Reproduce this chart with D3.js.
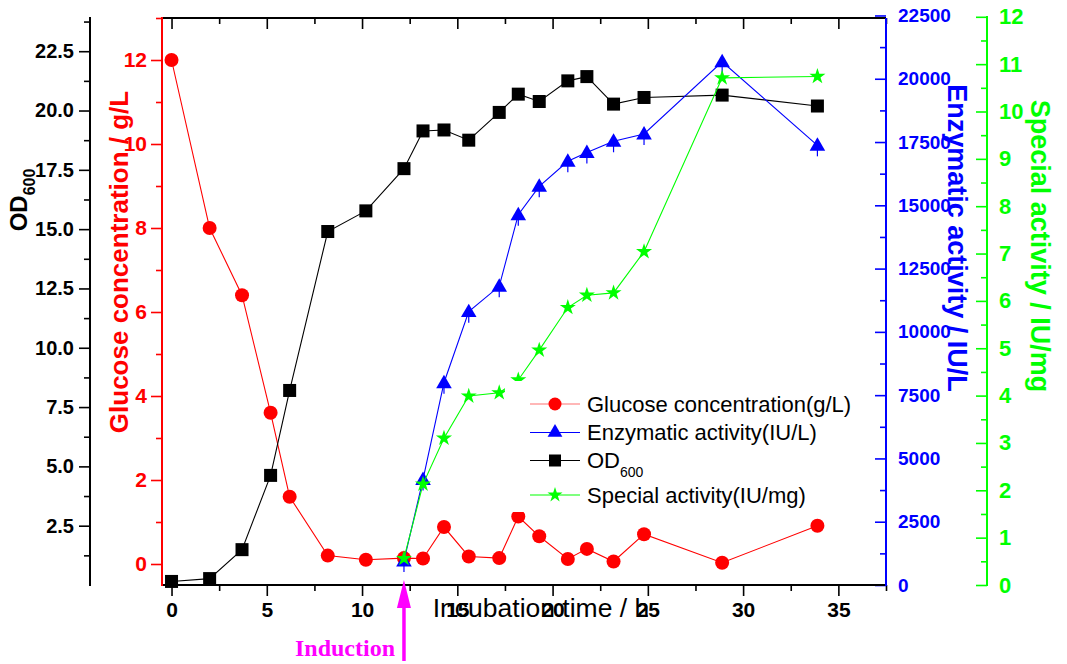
<!DOCTYPE html>
<html>
<head>
<meta charset="utf-8">
<script src="https://cdn.jsdelivr.net/npm/d3@7"></script>
<style>
  html, body { margin: 0; padding: 0; background: #ffffff; }
  svg { display: block; }
</style>
</head>
<body>
<div id="container"></div>
<script>
"use strict";

// Sampling times (h) and measured series.
const timeH = [0, 2, 3.7, 5.2, 6.2, 8.2, 10.2, 12.2, 13.2, 14.3, 15.6, 17.2, 18.2, 19.3, 20.8, 21.8, 23.2, 24.8, 28.9, 33.9];
const glucose = [12.0, 8.0, 6.4, 3.6, 1.6, 0.2, 0.1, 0.14, 0.13, 0.88, 0.18, 0.14, 1.13, 0.66, 0.12, 0.36, 0.06, 0.71, 0.03, 0.91];
const od600 = [0.15, 0.27, 1.49, 4.62, 8.2, 14.9, 15.77, 17.55, 19.14, 19.18, 18.75, 19.92, 20.69, 20.38, 21.25, 21.43, 20.27, 20.55, 20.65, 20.19];

// Enzyme series start at induction.
const inducedTimeH = [12.2, 13.2, 14.3, 15.6, 17.2, 18.2, 19.3, 20.8, 21.8, 23.2, 24.8, 28.9, 33.9];
const enzymatic = [950, 4170, 7990, 10800, 11800, 14630, 15750, 16740, 17090, 17530, 17820, 20670, 17370];
const special = [0.56, 2.13, 3.1, 3.99, 4.06, 4.33, 4.96, 5.86, 6.12, 6.17, 7.04, 10.71, 10.74];

const inductionTime = 12.2;

// Tick values.
const xTicks = [0, 5, 10, 15, 20, 25, 30, 35];
const xMinor = [2.5, 7.5, 12.5, 17.5, 22.5, 27.5, 32.5, 37.5];
const odTicks = [2.5, 5, 7.5, 10, 12.5, 15, 17.5, 20, 22.5];
const odMinor = [1.25, 3.75, 6.25, 8.75, 11.25, 13.75, 16.25, 18.75, 21.25, 23.75];
const glucoseTicks = [0, 2, 4, 6, 8, 10, 12];
const glucoseMinor = [1, 3, 5, 7, 9, 11, 13];
const enzTicks = [0, 2500, 5000, 7500, 10000, 12500, 15000, 17500, 20000, 22500];
const enzMinor = [1250, 3750, 6250, 8750, 11250, 13750, 16250, 18750, 21250];
const specialTicks = [0, 1, 2, 3, 4, 5, 6, 7, 8, 9, 10, 11, 12];
const specialMinor = [0.5, 1.5, 2.5, 3.5, 4.5, 5.5, 6.5, 7.5, 8.5, 9.5, 10.5, 11.5];

const legendItems = [
  { key: "glucose", label: "Glucose concentration(g/L)" },
  { key: "enzymatic", label: "Enzymatic activity(IU/L)" },
  { key: "od", label: "OD", sub: "600" },
  { key: "special", label: "Special activity(IU/mg)" }
];

const RED = "#ff0000";
const BLUE = "#0000ff";
const GREEN = "#00ff00";
const MAGENTA = "#ff00ff";
const FONT = "'Liberation Sans', Arial, Helvetica, sans-serif";

const width = 1067;
const height = 664;
const plotLeft = 162;
const plotRight = 886;
const plotTop = 18;
const plotBottom = 585;
const odAxisX = 90;
const specialAxisX = 987;
const majorTick = 11;
const minorTick = 6;

const x = d3.scaleLinear().domain([-0.5, 37.5]).range([plotLeft, plotRight]);
const yOd = d3.scaleLinear().domain([0, 23.9]).range([plotBottom, plotTop]);
const yGlucose = d3.scaleLinear().domain([-0.5, 13]).range([plotBottom, plotTop]);
const yEnz = d3.scaleLinear().domain([0, 22400]).range([plotBottom, plotTop]);
const ySpecial = d3.scaleLinear().domain([0, 12]).range([plotBottom, 16.8]);

const svg = d3.select("#container").append("svg")
  .attr("width", width)
  .attr("height", height)
  .style("font-family", FONT);

svg.append("rect").attr("width", width).attr("height", height).attr("fill", "#ffffff");

// Style an axis group: drop the domain path, colour ticks and labels.
function styleAxis(g, color, fontSize) {
  g.select(".domain").remove();
  g.selectAll("line").attr("stroke", color).attr("stroke-width", 1.6);
  g.selectAll("text")
    .attr("fill", color)
    .attr("font-size", fontSize)
    .attr("font-weight", "bold")
    .attr("font-family", FONT);
}

function drawAxis(axis, minorAxis, transform, color, fontSize) {
  svg.append("g").attr("transform", transform).call(minorAxis).call((g) => styleAxis(g, color, fontSize));
  svg.append("g").attr("transform", transform).call(axis).call((g) => styleAxis(g, color, fontSize));
}

// Bottom x-axis (ticks outward).
drawAxis(
  d3.axisBottom(x).tickValues(xTicks).tickSize(majorTick).tickPadding(6).tickFormat(d3.format("d")),
  d3.axisBottom(x).tickValues(xMinor).tickSize(minorTick).tickFormat(""),
  `translate(0, ${plotBottom})`, "#000000", 21
);
// Top frame ticks (inward).
drawAxis(
  d3.axisBottom(x).tickValues(xTicks).tickSize(majorTick).tickFormat(""),
  d3.axisBottom(x).tickValues(xMinor).tickSize(minorTick).tickFormat(""),
  `translate(0, ${plotTop})`, "#000000", 21
);

// OD600 axis, far left.
drawAxis(
  d3.axisLeft(yOd).tickValues(odTicks).tickSize(majorTick).tickPadding(5).tickFormat(d3.format(".1f")),
  d3.axisLeft(yOd).tickValues(odMinor).tickSize(minorTick).tickFormat(""),
  `translate(${odAxisX}, 0)`, "#000000", 20
);

// Glucose axis on the plot's left edge.
drawAxis(
  d3.axisLeft(yGlucose).tickValues(glucoseTicks).tickSize(majorTick).tickPadding(4).tickFormat(d3.format("d")),
  d3.axisLeft(yGlucose).tickValues(glucoseMinor).tickSize(minorTick).tickFormat(""),
  `translate(${plotLeft}, 0)`, RED, 21
);

// Enzymatic axis on the plot's right edge (ticks point inward).
drawAxis(
  d3.axisRight(yEnz).tickValues(enzTicks).tickSize(-majorTick).tickPadding(12).tickFormat(d3.format("d")),
  d3.axisRight(yEnz).tickValues(enzMinor).tickSize(-minorTick).tickFormat(""),
  `translate(${plotRight}, 0)`, BLUE, 19
);

// Special activity axis, far right.
drawAxis(
  d3.axisRight(ySpecial).tickValues(specialTicks).tickSize(-majorTick).tickPadding(12).tickFormat(d3.format("d")),
  d3.axisRight(ySpecial).tickValues(specialMinor).tickSize(-minorTick).tickFormat(""),
  `translate(${specialAxisX}, 0)`, GREEN, 22
);

// Axis lines.
const axisLines = [
  { x1: plotLeft, y1: plotTop, x2: plotRight, y2: plotTop, c: "#000000" },
  { x1: plotLeft, y1: plotBottom, x2: plotRight, y2: plotBottom, c: "#000000" },
  { x1: odAxisX, y1: 17, x2: odAxisX, y2: 586, c: "#000000" },
  { x1: plotLeft, y1: 17, x2: plotLeft, y2: 586, c: RED },
  { x1: plotRight, y1: plotTop, x2: plotRight, y2: 586, c: BLUE },
  { x1: specialAxisX, y1: 16, x2: specialAxisX, y2: 586, c: GREEN }
];
svg.append("g").selectAll("line").data(axisLines).enter().append("line")
  .attr("x1", (d) => d.x1).attr("y1", (d) => d.y1)
  .attr("x2", (d) => d.x2).attr("y2", (d) => d.y2)
  .attr("stroke", (d) => d.c).attr("stroke-width", 2);

// Series.
const glucoseData = timeH.map((t, i) => ({ t, v: glucose[i] }));
const odData = timeH.map((t, i) => ({ t, v: od600[i] }));
const enzData = inducedTimeH.map((t, i) => ({ t, v: enzymatic[i] }));
const specialData = inducedTimeH.map((t, i) => ({ t, v: special[i] }));

function drawLine(data, yScale, color) {
  svg.append("path")
    .datum(data)
    .attr("fill", "none")
    .attr("stroke", color)
    .attr("stroke-width", 1.1)
    .attr("d", d3.line().x((d) => x(d.t)).y((d) => yScale(d.v)));
}

drawLine(glucoseData, yGlucose, RED);
svg.append("g").selectAll("circle").data(glucoseData).enter().append("circle")
  .attr("cx", (d) => x(d.t)).attr("cy", (d) => yGlucose(d.v)).attr("r", 7).attr("fill", RED);

drawLine(odData, yOd, "#000000");
svg.append("g").selectAll("rect").data(odData).enter().append("rect")
  .attr("x", (d) => x(d.t) - 6.5).attr("y", (d) => yOd(d.v) - 6.5)
  .attr("width", 13).attr("height", 13).attr("fill", "#000000");

drawLine(enzData, yEnz, BLUE);
// Small error stems under the triangles.
svg.append("g").selectAll("line").data(enzData).enter().append("line")
  .attr("x1", (d) => x(d.t)).attr("x2", (d) => x(d.t))
  .attr("y1", (d) => yEnz(d.v)).attr("y2", (d) => yEnz(d.v) + 11)
  .attr("stroke", BLUE).attr("stroke-width", 1.2);
svg.append("g").selectAll("path").data(enzData).enter().append("path")
  .attr("transform", (d) => `translate(${x(d.t)}, ${yEnz(d.v) + 1})`)
  .attr("d", d3.symbol().type(d3.symbolTriangle).size(105))
  .attr("fill", BLUE);

drawLine(specialData, ySpecial, GREEN);
svg.append("g").selectAll("path").data(specialData).enter().append("path")
  .attr("transform", (d) => `translate(${x(d.t)}, ${ySpecial(d.v)})`)
  .attr("d", d3.symbol().type(d3.symbolStar).size(80))
  .attr("fill", GREEN);

// Legend with white background.
const legendRows = [404, 432.5, 460.5, 495];
const legend = svg.append("g");
legend.append("rect").attr("x", 505).attr("y", 381).attr("width", 355).attr("height", 131).attr("fill", "#ffffff");
const legendColors = { glucose: RED, enzymatic: BLUE, od: "#000000", special: GREEN };
legendItems.forEach((item, i) => {
  const y = legendRows[i];
  const c = legendColors[item.key];
  legend.append("line").attr("x1", 530).attr("x2", 580).attr("y1", y).attr("y2", y)
    .attr("stroke", item.key === "glucose" ? "#ff7070" : c).attr("stroke-width", 1.2);
  if (item.key === "glucose") {
    legend.append("circle").attr("cx", 555).attr("cy", y).attr("r", 6.5).attr("fill", RED);
  } else if (item.key === "enzymatic") {
    legend.append("path").attr("transform", `translate(555, ${y})`)
      .attr("d", d3.symbol().type(d3.symbolTriangle).size(95)).attr("fill", BLUE);
  } else if (item.key === "od") {
    legend.append("rect").attr("x", 549).attr("y", y - 6).attr("width", 12).attr("height", 12).attr("fill", c);
  } else {
    legend.append("path").attr("transform", `translate(555, ${y})`)
      .attr("d", d3.symbol().type(d3.symbolStar).size(70)).attr("fill", GREEN);
  }
  const t = legend.append("text").attr("x", 587).attr("y", y).attr("dy", "0.36em")
    .attr("font-size", 22).attr("fill", "#000000");
  t.append("tspan").text(item.label);
  if (item.sub) t.append("tspan").attr("font-size", 14).attr("dy", 9).text(item.sub);
});

// Axis titles.
const odTitle = svg.append("text")
  .attr("transform", "translate(27, 200) rotate(-90)")
  .attr("text-anchor", "middle").attr("font-size", 24).attr("font-weight", "bold").attr("fill", "#000000");
odTitle.append("tspan").text("OD");
odTitle.append("tspan").attr("font-size", 16).attr("dy", 8).text("600");

svg.append("text")
  .attr("transform", "translate(128, 262) rotate(-90)")
  .attr("text-anchor", "middle").attr("font-size", 26).attr("font-weight", "bold").attr("fill", RED)
  .text("Glucose concentration / g/L");

svg.append("text")
  .attr("transform", "translate(948, 238) rotate(90)")
  .attr("text-anchor", "middle").attr("font-size", 27).attr("font-weight", "bold").attr("fill", BLUE)
  .text("Enzymatic activity / IU/L");

svg.append("text")
  .attr("transform", "translate(1031, 246) rotate(90)")
  .attr("text-anchor", "middle").attr("font-size", 27).attr("font-weight", "bold").attr("fill", GREEN)
  .text("Special activity / IU/mg");

svg.append("text")
  .attr("x", 541).attr("y", 617)
  .attr("text-anchor", "middle").attr("font-size", 26.5).attr("fill", "#000000")
  .text("Incubation time / h");

// Induction marker.
const ix = x(inductionTime);
svg.append("line").attr("x1", ix).attr("x2", ix).attr("y1", 604).attr("y2", 661)
  .attr("stroke", MAGENTA).attr("stroke-width", 3.5);
svg.append("path")
  .attr("d", `M${ix},580 L${ix - 7},608 L${ix + 7},608 Z`)
  .attr("fill", MAGENTA);
svg.append("text")
  .attr("x", 395).attr("y", 656)
  .attr("text-anchor", "end")
  .attr("font-family", "'Liberation Serif', 'Times New Roman', serif")
  .attr("font-size", 24).attr("font-weight", "bold").attr("fill", MAGENTA)
  .text("Induction");
</script>
</body>
</html>
